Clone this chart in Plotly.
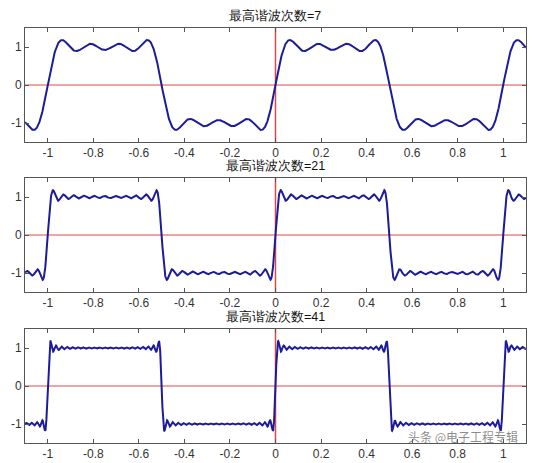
import numpy as np
import plotly.graph_objects as go

# Data: highest harmonic order for each panel
harmonic_orders = [7, 21, 41]
titles = ["最高谐波次数=7", "最高谐波次数=21", "最高谐波次数=41"]
x_ticks = [-1, -0.8, -0.6, -0.4, -0.2, 0, 0.2, 0.4, 0.6, 0.8, 1]
x_tick_labels = ["-1", "-0.8", "-0.6", "-0.4", "-0.2", "0", "0.2", "0.4", "0.6", "0.8", "1"]
y_ticks = [-1, 0, 1]
y_tick_labels = ["-1", "0", "1"]
t = np.linspace(-1.1, 1.1, 3001)


def square_partial_sum(x, n_max):
    s = np.zeros_like(x)
    for k in range(1, n_max + 1, 2):
        s += np.sin(2 * np.pi * k * x) / k
    return 4 / np.pi * s


W, H = 542, 463
panels = [(28, 142), (178, 292), (329, 443)]
x_dom = [25 / W, 526 / W]

fig = go.Figure()
layout = dict(
    width=W, height=H,
    margin=dict(l=0, r=0, t=0, b=0),
    paper_bgcolor="white", plot_bgcolor="white",
    showlegend=False,
    font=dict(family="Liberation Sans, Arial, sans-serif", size=12, color="#222"),
)
annotations = []
for i, (n, title, (top, bot)) in enumerate(zip(harmonic_orders, titles, panels)):
    idx = "" if i == 0 else str(i + 1)
    xa, ya = "x" + idx, "y" + idx
    y = square_partial_sum(t, n)
    fig.add_trace(go.Scatter(x=[-1.1, 1.1], y=[0, 0], mode="lines",
                             line=dict(color="#e04848", width=1), xaxis=xa, yaxis=ya,
                             hoverinfo="skip"))
    fig.add_trace(go.Scatter(x=[0, 0], y=[-1.5, 1.5], mode="lines",
                             line=dict(color="#e04848", width=1.5), xaxis=xa, yaxis=ya,
                             hoverinfo="skip"))
    fig.add_trace(go.Scatter(x=t, y=y, mode="lines",
                             line=dict(color="#1c1c9a", width=2), xaxis=xa, yaxis=ya))
    ydom = [1 - bot / H, 1 - top / H]
    axis_common = dict(showgrid=False, zeroline=False, showline=True, linecolor="#555",
                       linewidth=1, mirror="ticks", ticks="inside", ticklen=4,
                       tickcolor="#555", tickfont=dict(size=12, color="#333"))
    layout["xaxis" + idx] = dict(domain=x_dom, range=[-1.1, 1.1], anchor=ya,
                                 tickvals=x_ticks, ticktext=x_tick_labels, **axis_common)
    layout["yaxis" + idx] = dict(domain=ydom, range=[-1.5, 1.5], anchor=xa,
                                 tickvals=y_ticks, ticktext=y_tick_labels, **axis_common)
    annotations.append(dict(text=title, xref="paper", yref="paper",
                            x=(x_dom[0] + x_dom[1]) / 2, y=1 - (top - 3) / H,
                            xanchor="center", yanchor="bottom", showarrow=False,
                            font=dict(size=12.5, color="#111")))

annotations.append(dict(text="头条 @电子工程专辑", xref="paper", yref="paper",
                        x=520 / W, y=1 - 436 / H, xanchor="right", yanchor="middle",
                        showarrow=False,
                        font=dict(size=12, color="rgba(90,90,90,0.7)",
                                  family="Noto Sans CJK SC")))
layout["annotations"] = annotations
fig.update_layout(**layout)
fig.write_html("out.html", config={"displayModeBar": False},
               post_script="document.body.style.margin='0';document.body.style.overflow='hidden';")
